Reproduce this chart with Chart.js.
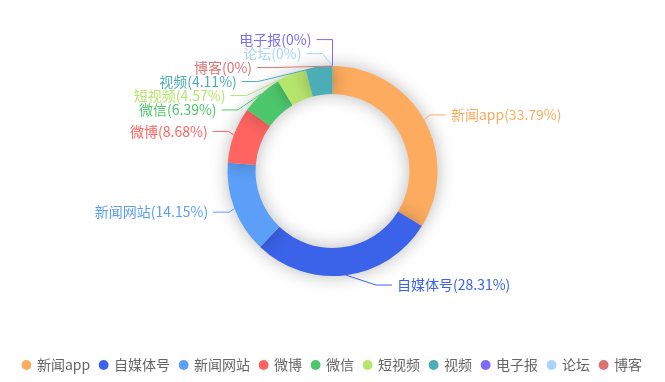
<!DOCTYPE html>
<html>
<head>
<meta charset="utf-8">
<script src="https://cdn.jsdelivr.net/npm/chart.js@4.4.0/dist/chart.umd.min.js"></script>
<style>
html,body{margin:0;padding:0;background:#fff;overflow:hidden}
#wrap{position:relative;width:665px;height:382px;overflow:hidden;background:#fff}
#c{position:absolute;left:0;top:-6px}
</style>
</head>
<body>
<div id="wrap"><canvas id="c" width="665" height="388"></canvas></div>
<script>
// ---- data ----
const categories = ['新闻app', '自媒体号', '新闻网站', '微博', '微信', '短视频', '视频', '电子报', '论坛', '博客'];
const shares = [33.79, 28.31, 14.15, 8.68, 6.39, 4.57, 4.11, 0, 0, 0];
const sliceColors = ['#FDAC5F', '#3B63E9', '#5B9FF8', '#FF6461', '#4DC76C', '#B6E56D', '#4BADB6', '#7D6CF7', '#A8D4FE', '#D87472'];

const FONT = '"Noto Sans CJK SC", "Microsoft YaHei", sans-serif';

// soft shadow under the ring
const shadowPlugin = {
  id: 'ringShadow',
  beforeDatasetsDraw(chart) {
    const ctx = chart.ctx;
    ctx.save();
    ctx.shadowColor = 'rgba(0,0,0,0.28)';
    ctx.shadowBlur = 18;
    ctx.shadowOffsetX = 0;
    ctx.shadowOffsetY = 0;
  },
  afterDatasetsDraw(chart) {
    chart.ctx.restore();
  }
};

// outside labels with leader lines (pie label layout with overlap avoidance)
const labelPlugin = {
  id: 'pieLabels',
  afterDatasetsDraw(chart) {
    const meta = chart.getDatasetMeta(0);
    const ctx = chart.ctx;
    const len = 10, len2 = 16, gap = 5, h = 14;
    const viewTop = 0, viewHeight = chart.height;
    const items = [];
    let cx = 0, cy = 0, r = 0;
    meta.data.forEach((arc, i) => {
      const p = arc.getProps(['x', 'y', 'startAngle', 'endAngle', 'outerRadius'], true);
      cx = p.x; cy = p.y; r = p.outerRadius;
      const mid = (p.startAngle + p.endAngle) / 2;
      const ux = Math.cos(mid), uy = Math.sin(mid);
      const dir = ux < 0 ? -1 : 1;
      const x1 = cx + (r + len) * ux, y1 = cy + (r + len) * uy;
      const x2 = x1 + dir * len2;
      items.push({
        i, dir,
        x0: cx + r * ux, y0: cy + r * uy,
        x: x2 + dir * gap, y: y1,
        text: categories[i] + '(' + shares[i] + '%)'
      });
    });

    function adjustSide(list, dir) {
      list.sort((a, b) => a.y - b.y);
      const n = list.length;
      function shiftUp(end, delta) {
        for (let j = end; j >= 0; j--) {
          if (list[j].y - delta < viewTop) break;
          list[j].y -= delta;
          if (j > 0 && list[j].y > list[j - 1].y + h) break;
        }
      }
      function shiftDown(start, end, delta) {
        for (let j = start; j < end; j++) {
          if (list[j].y + delta > viewTop + viewHeight) break;
          list[j].y += delta;
          if (j > start && j + 1 < end && list[j + 1].y > list[j].y + h) {
            shiftUp(j, delta / 2);
            return;
          }
        }
        shiftUp(end - 1, delta / 2);
      }
      let lastY = 0;
      for (let i = 0; i < n; i++) {
        const delta = list[i].y - lastY;
        if (delta < 0) shiftDown(i, n, -delta);
        lastY = list[i].y + h;
      }
      if (viewHeight - lastY < 0) shiftUp(n - 1, lastY - viewHeight);
      const up = [], down = [];
      list.forEach(it => (it.y >= cy ? down : up).push(it));
      function changeX(arr, isDown) {
        let last = isDown ? Number.MAX_VALUE : 0;
        arr.forEach(it => {
          const dy = Math.abs(it.y - cy);
          let dx = dy < r + len ? Math.sqrt((r + len + len2) ** 2 - dy * dy) : Math.abs(it.x - cx);
          if (isDown && dx >= last) dx = last - 10;
          if (!isDown && dx <= last) dx = last + 10;
          it.x = cx + dx * dir;
          last = dx;
        });
      }
      changeX(up, false);
      changeX(down, true);
    }
    adjustSide(items.filter(it => it.dir < 0), -1);
    adjustSide(items.filter(it => it.dir > 0), 1);

    ctx.save();
    ctx.font = '14px ' + FONT;
    ctx.textBaseline = 'middle';
    ctx.lineWidth = 1;
    items.forEach(it => {
      const col = sliceColors[it.i];
      const p2x = it.x - it.dir * gap;
      const p1x = p2x - it.dir * len2;
      ctx.strokeStyle = col;
      ctx.beginPath();
      ctx.moveTo(it.x0, it.y0);
      ctx.lineTo(p1x, it.y);
      ctx.lineTo(p2x, it.y);
      ctx.stroke();
      ctx.fillStyle = col;
      ctx.textAlign = it.dir < 0 ? 'right' : 'left';
      ctx.fillText(it.text, it.x, it.y);
    });
    ctx.restore();
  }
};

Chart.defaults.font.family = FONT;

new Chart(document.getElementById('c'), {
  type: 'doughnut',
  data: {
    labels: categories,
    datasets: [{
      data: shares,
      backgroundColor: sliceColors,
      borderWidth: 0,
      radius: 105,
      cutout: '73.3%'
    }]
  },
  options: {
    responsive: false,
    animation: false,
    devicePixelRatio: 1,
    layout: { padding: { top: 0, bottom: 0, left: 0, right: 0 } },
    plugins: {
      tooltip: { enabled: false },
      legend: {
        position: 'bottom',
        labels: {
          usePointStyle: true,
          pointStyle: 'circle',
          boxWidth: 7,
          boxHeight: 7,
          padding: 10,
          color: '#666',
          font: { size: 14, family: FONT }
        }
      }
    }
  },
  plugins: [shadowPlugin, labelPlugin]
});
</script>
</body>
</html>
